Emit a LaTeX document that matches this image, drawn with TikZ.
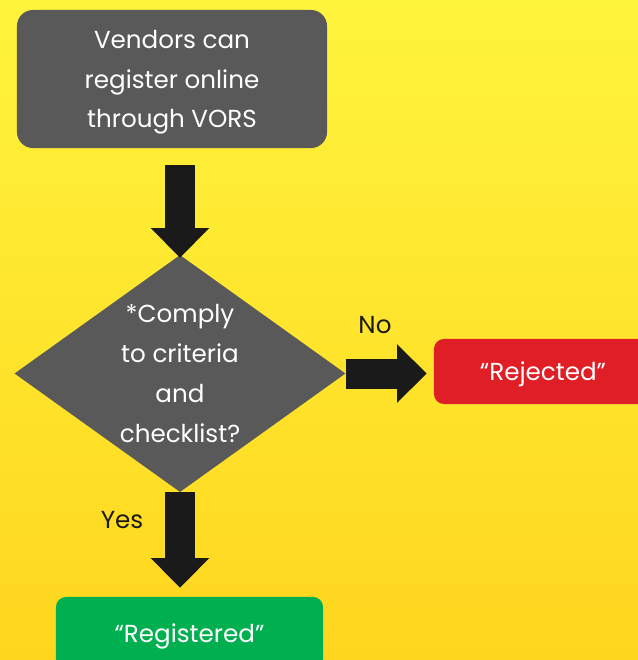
\documentclass[tikz,border=0pt]{standalone}
\usepackage{fontspec}
\setmainfont{Poppins}
\usetikzlibrary{shapes.geometric,arrows.meta}

\definecolor{boxgrey}{HTML}{595959}
\definecolor{arrowblack}{HTML}{1A1A1A}
\definecolor{rejectred}{HTML}{E01E26}
\definecolor{acceptgreen}{HTML}{00B050}
\definecolor{bgtop}{HTML}{FFF43C}
\definecolor{bgbottom}{HTML}{FFD61E}

\begin{document}
\begin{tikzpicture}[
  x=0.025cm, y=-0.025cm,
  % Bendras teksto stilius
  every node/.style={font=\fontsize{17.5}{28.3}\selectfont, align=center,
    inner sep=0pt, text depth=0pt},
  % Mazgu stiliai
  process/.style={fill=boxgrey, text=white, rounded corners=0.4cm,
    minimum width=7.75cm, minimum height=3.45cm},
  decision/.style={diamond, fill=boxgrey, minimum width=8.275cm, minimum height=5.925cm},
  decisiontext/.style={text=white},
  reject/.style={fill=rejectred, text=white, rounded corners=0.25cm,
    minimum width=5.45cm, minimum height=1.625cm},
  accept/.style={fill=acceptgreen, text=white, rounded corners=0.25cm,
    minimum width=6.675cm, minimum height=1.8cm},
  answer/.style={text=arrowblack},
  % Storos rodykles
  flow/.style={draw=arrowblack, line width=0.75cm,
    -{Triangle[width=1.42cm, length=0.74cm]}}
]

  % Fonas
  \useasboundingbox (0,0) rectangle (638,660);
  \shade[top color=bgtop, bottom color=bgbottom] (0,0) rectangle (638,660);
  \clip (0,0) rectangle (638,660);

  % Mazgai
  \node[process] (vendors) at (172,79) {Vendors can\\register online\\through VORS};
  \node[decision] (check) at (180,373.5) {};
  \node[decisiontext] (checktext) at (check) {*Comply\\to criteria\\and\\checklist?};
  \node[reject] (rejected) at (543,371.5) {“Rejected”};
  \node[accept] (registered) at (189.5,633) {“Registered”};

  % Rodykles
  \draw[flow, shorten <=0.425cm, shorten >=-0.075cm] (vendors.south -| check.north) -- (check.north);
  \draw[flow, shorten >=0.175cm] (check.east) -- (rejected.west |- check.east);
  \draw[flow, shorten >=0.225cm] (check.south) -- (check.south |- registered.north);

  % Atsakymai
  \node[answer] (no) at (375,325) {No};
  \node[answer] (yes) at (122,520) {Yes};

\end{tikzpicture}
\end{document}
